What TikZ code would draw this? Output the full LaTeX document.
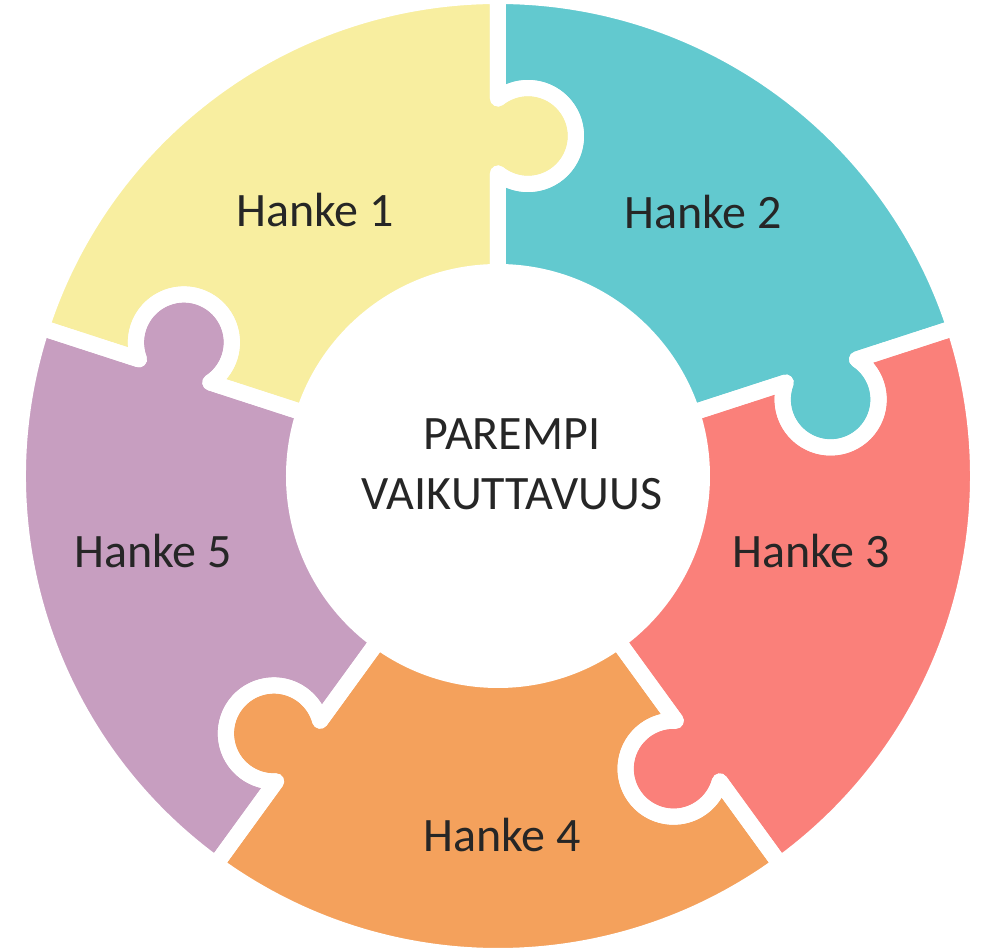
\documentclass[tikz,border=0pt]{standalone}
\usepackage{fontspec}
\setmainfont{Carlito}
\definecolor{pyellow}{HTML}{F8EEA0}
\definecolor{pcyan}{HTML}{62C9CF}
\definecolor{pred}{HTML}{FA807A}
\definecolor{porange}{HTML}{F4A15C}
\definecolor{ppurple}{HTML}{C79EC0}
\definecolor{textdark}{HTML}{262626}
\newcommand\knobP{340}
\newcommand\knobR{48}
\newcommand\knobH{37.47}
\newcommand\ringOut{480}
\newcommand\ringIn{200}
% #1 = lower edge angle (knob side), #2 = path options
\newcommand\puzzlepiece[2]{%
  \pgfmathsetmacro\pieceB{#1+72}%
  \path[#2] (#1:\ringIn) -- (#1:{\knobP-\knobH})
    arc[start angle={#1+141.32}, end angle={#1+398.68}, radius=\knobR]
    -- (#1:\ringOut)
    arc[start angle={#1}, end angle={\pieceB}, radius=\ringOut]
    -- (\pieceB:{\knobP+\knobH})
    arc[start angle={\pieceB+398.68}, end angle={\pieceB+141.32}, radius=\knobR]
    -- (\pieceB:\ringIn)
    arc[start angle={\pieceB}, end angle={#1}, radius=\ringIn] -- cycle;}
\tikzset{
  lbl/.style={font=\fontsize{48}{58}\selectfont, text=textdark, inner sep=0pt, anchor=base},
  gap/.style={draw=white, line width=16, line join=round}
}
\begin{document}
\begin{tikzpicture}[x=1pt, y=1pt]
\fill[white] (-498,-474) rectangle (491,476);
\useasboundingbox (-498,-474) rectangle (491,476);
% fills
\puzzlepiece{90}{fill=pyellow}
\puzzlepiece{18}{fill=pcyan}
\puzzlepiece{-54}{fill=pred}
\puzzlepiece{234}{fill=porange}
\puzzlepiece{162}{fill=ppurple}
% white gaps
\puzzlepiece{90}{gap}
\puzzlepiece{18}{gap}
\puzzlepiece{-54}{gap}
\puzzlepiece{234}{gap}
\puzzlepiece{162}{gap}
% hub
\node[circle, fill=white, inner sep=0pt, minimum size=424] (hub) at (0,0) {};
\node[lbl] (t1) at (14,26) {PAREMPI};
\node[lbl] (t2) at (14,-34) {VAIKUTTAVUUS};
\node[lbl] (h1) at (-183,249) {Hanke 1};
\node[lbl] (h2) at (205,247) {Hanke 2};
\node[lbl] (h3) at (313,-92) {Hanke 3};
\node[lbl] (h4) at (4,-376) {Hanke 4};
\node[lbl] (h5) at (-345,-92) {Hanke 5};
\end{tikzpicture}
\end{document}
